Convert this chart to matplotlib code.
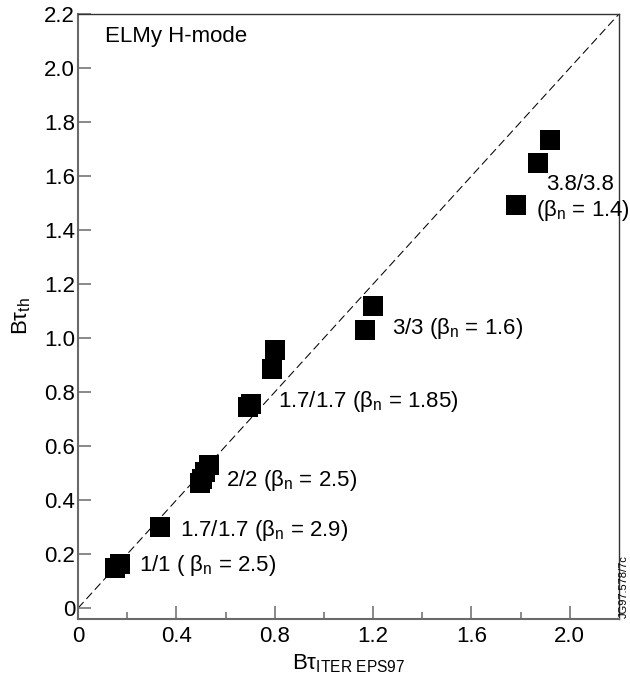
import matplotlib
matplotlib.use("Agg")
import matplotlib.pyplot as plt
import numpy as np

plt.rcParams["font.family"] = ["Liberation Sans", "DejaVu Sans"]
plt.rcParams["mathtext.fontset"] = "custom"
plt.rcParams["mathtext.rm"] = "Liberation Sans"
plt.rcParams["mathtext.it"] = "Liberation Sans:italic"

# confinement time: ITER EPS97 scaling vs. measured thermal (both times B)
tau_scaling = [0.152, 0.169, 0.332, 0.495, 0.505, 0.515, 0.532,
               0.690, 0.705, 0.787, 0.800, 1.166, 1.198,
               1.782, 1.870, 1.921]
tau_thermal = [0.150, 0.165, 0.300, 0.463, 0.480, 0.504, 0.531,
               0.745, 0.755, 0.887, 0.957, 1.031, 1.120,
               1.494, 1.648, 1.734]

# field / current labels for each group
group_labels = ["1/1 ( β$_{\\rm n}$ = 2.5)",
                "1.7/1.7 (β$_{\\rm n}$ = 2.9)",
                "2/2 (β$_{\\rm n}$ = 2.5)",
                "1.7/1.7 (β$_{\\rm n}$ = 1.85)",
                "3/3 (β$_{\\rm n}$ = 1.6)",
                "3.8/3.8",
                "(β$_{\\rm n}$ = 1.4)"]
label_x = [0.248, 0.415, 0.603, 0.815, 1.277, 1.905, 1.861]
label_y = [0.159, 0.289, 0.474, 0.764, 1.037, 1.567, 1.474]

x_ticks = [0, 0.4, 0.8, 1.2, 1.6, 2.0]
x_ticklabels = ["0", "0.4", "0.8", "1.2", "1.6", "2.0"]
y_ticks = [0, 0.2, 0.4, 0.6, 0.8, 1.0, 1.2, 1.4, 1.6, 1.8, 2.0, 2.2]
y_ticklabels = ["0", "0.2", "0.4", "0.6", "0.8", "1.0", "1.2", "1.4",
                "1.6", "1.8", "2.0", "2.2"]

axis_grey = "#6a6a6a"
fs = 16

fig = plt.figure(figsize=(6.3, 6.82), dpi=100)
ax = fig.add_axes([0.1238, 0.0924, 0.8587, 0.8871])

ax.plot([0, 2.2], [0, 2.2], color="black", lw=0.75, dashes=(8, 4), zorder=1)
ax.plot(tau_scaling, tau_thermal, "s", color="black", markersize=15,
        markeredgewidth=0, zorder=2)

for i, (lx, ly, txt) in enumerate(zip(label_x, label_y, group_labels)):
    # last line sits against the frame, so it is set narrower
    fam = ["Liberation Sans Narrow", "Liberation Sans"] if i == 6 else None
    ax.text(lx, ly, txt, fontsize=fs, ha="left", va="center", family=fam)

ax.text(0.11, 2.115, "ELMy H-mode", fontsize=fs, ha="left", va="center")

ax.set_xlim(0, 2.2)
ax.set_ylim(-0.04, 2.2)

ax.set_xticks(x_ticks)
ax.set_xticklabels(x_ticklabels)
ax.set_xticks([0.2, 0.6, 1.0, 1.4, 1.8], minor=True)
ax.set_yticks(y_ticks)
ax.set_yticklabels(y_ticklabels)

ax.tick_params(axis="both", which="major", direction="in", length=9.5,
               width=1.1, color=axis_grey, labelsize=fs)
ax.tick_params(axis="x", which="major", pad=5)
ax.tick_params(axis="y", which="major", pad=2)
ax.tick_params(axis="x", which="minor", direction="in", length=5,
               width=1.1, color=axis_grey)

for side in ["left", "bottom"]:
    ax.spines[side].set_color(axis_grey)
    ax.spines[side].set_linewidth(1.5)
for side in ["top", "right"]:
    ax.spines[side].set_color("#333333")
    ax.spines[side].set_linewidth(1.0)

ax.set_xlabel("Bτ$_{\\rm ITER\\ EPS97}$", fontsize=fs, labelpad=4)
ax.set_ylabel("Bτ$_{\\rm th}$", fontsize=fs, labelpad=8)

fig.text(0.9895, 0.094, "JG97.578/7c", rotation=90, fontsize=8,
         ha="center", va="bottom")

fig.savefig("out.png", dpi=100)
